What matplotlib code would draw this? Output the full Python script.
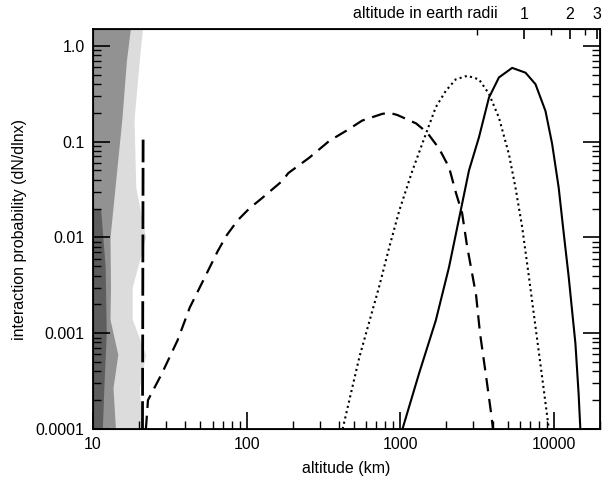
import matplotlib
matplotlib.use("Agg")
import matplotlib.pyplot as plt
from matplotlib.ticker import FixedLocator, NullFormatter, LogLocator

# dashed curve (altitude km, dN/dlnx)
dash_x = [22.1, 22.8, 28.1, 35.6, 42.7, 53.3, 64.9, 74.1, 87.5, 104, 127, 171, 187,
          256, 346, 446, 566, 764, 849, 957, 1270, 1500, 1790, 2080, 2310, 2530, 2720,
          3120, 3310, 3630, 3900, 4020]
dash_y = [1e-4, 2.0e-4, 3.8e-4, 8.5e-4, 1.86e-3, 3.8e-3, 7.2e-3, 0.0105, 0.0151, 0.020,
          0.026, 0.039, 0.047, 0.068, 0.102, 0.130, 0.166, 0.195, 0.200, 0.19, 0.155, 0.124,
          0.085, 0.054, 0.029, 0.018, 0.0083, 0.0025, 0.001, 3.5e-4, 1.5e-4, 1e-4]

# dotted curve
dot_x = [422, 542, 731, 849, 986, 1202, 1469, 1706, 1982, 2301, 2735, 3258, 3784, 4395,
         5105, 5636, 6223, 6887, 7603, 8395, 9290]
dot_y = [1e-4, 5.6e-4, 3.1e-3, 7.9e-3, 0.019, 0.050, 0.120, 0.229, 0.339, 0.447, 0.487,
         0.447, 0.316, 0.178, 0.074, 0.033, 0.0129, 3.9e-3, 1.17e-3, 3.5e-4, 1e-4]

# solid curve
sol_x = [1035, 1327, 1706, 2080, 2477, 2805, 3258, 3784, 4395, 5358, 6546, 7603, 8831,
         9750, 10765, 11614, 12503, 13152, 13836, 14521, 14894]
sol_y = [1e-4, 3.8e-4, 1.36e-3, 4.9e-3, 0.019, 0.050, 0.111, 0.288, 0.468, 0.589, 0.525,
         0.398, 0.209, 0.0955, 0.0331, 0.011, 3.9e-3, 1.74e-3, 7.8e-4, 2.3e-4, 1e-4]

# vertical dashed marker
vline_x = [21.0, 21.2]
vline_y = [1e-4, 0.105]

# gray band of scanned points on the left
band_y = [1.5, 0.7, 0.17, 0.033, 0.01, 0.003, 0.0014, 0.0006, 0.00027, 0.0001]
band_dense = [17.5, 16.5, 15.4, 13.9, 12.9, 13.0, 12.9, 14.5, 13.5, 14.0]
band_light = [21.0, 20.0, 18.5, 19.0, 22.0, 18.0, 18.0, 22.0, 20.0, 21.0]
dark_y = [0.02, 0.005, 0.001, 0.0003, 0.0001]
dark_x = [11.2, 12.0, 12.2, 11.8, 11.5]

RE = 6371.0
radii_major = [1, 2, 3]
radii_minor = [0.5, 1.5, 2.5]


def main():
    plt.rcParams['font.family'] = ['Liberation Sans', 'DejaVu Sans']
    fig = plt.figure(figsize=(6.13, 4.87), dpi=100)
    ax = fig.add_axes([93/613, 1-429/487, (600-93)/613, (429-29)/487])
    ax.set_xscale('log')
    ax.set_yscale('log')
    ax.set_xlim(10, 20000)
    ax.set_ylim(1e-4, 1.5)

    ax.fill_betweenx(band_y, 10, band_light, color='#dcdcdc', lw=0, zorder=1)
    ax.fill_betweenx(band_y, 10, band_dense, color='#929292', lw=0, zorder=1)
    ax.fill_betweenx(dark_y, 10, dark_x, color='#5e5e5e', lw=0, zorder=1)

    ax.plot(vline_x, vline_y, color='k', lw=2, dashes=(10, 2), zorder=3)
    ax.plot(dash_x, dash_y, color='k', lw=1.6, dashes=(6, 3.5), zorder=3)
    ax.plot(dot_x, dot_y, color='k', lw=1.5, dashes=(1, 1.6), zorder=3)
    ax.plot(sol_x, sol_y, color='k', lw=1.5, zorder=3)

    ax.set_xticks([10, 100, 1000, 10000])
    ax.set_xticklabels(['10', '100', '1000', '10000'])
    ax.xaxis.set_minor_locator(LogLocator(base=10, subs=range(2, 10)))
    ax.xaxis.set_minor_formatter(NullFormatter())
    ax.set_yticks([1e-4, 1e-3, 1e-2, 0.1, 1.0])
    ax.set_yticklabels(['0.0001', '0.001', '0.01', '0.1', '1.0'])
    ax.yaxis.set_minor_locator(LogLocator(base=10, subs=range(2, 10)))
    ax.yaxis.set_minor_formatter(NullFormatter())
    ax.tick_params(which='major', direction='in', length=12, width=1.2,
                   labelsize=11.5, right=True, top=False, pad=6)
    ax.tick_params(which='minor', direction='in', length=6, width=1.0,
                   right=True, top=False)
    for s in ax.spines.values():
        s.set_linewidth(1.3)

    ax.set_xlabel('altitude (km)', fontsize=11.5, labelpad=6)
    ax.set_ylabel('interaction probability (dN/dlnx)', fontsize=11.5, labelpad=6)

    top = ax.twiny()
    top.set_xscale('log')
    top.set_xlim(ax.get_xlim())
    top.xaxis.set_major_locator(FixedLocator([r * RE for r in radii_major]))
    top.set_xticklabels([str(r) for r in radii_major])
    top.xaxis.set_minor_locator(FixedLocator([r * RE for r in radii_minor]))
    top.xaxis.set_minor_formatter(NullFormatter())
    top.tick_params(which='major', direction='in', length=7, width=1.2,
                    labelsize=11.5, pad=5)
    top.tick_params(which='minor', direction='in', length=4, width=1.0)
    fig.text(498/613, 1-14/487, 'altitude in earth radii', fontsize=11.5,
             ha='right', va='center')

    fig.savefig('out.png', dpi=100)


if __name__ == "__main__":
    main()
